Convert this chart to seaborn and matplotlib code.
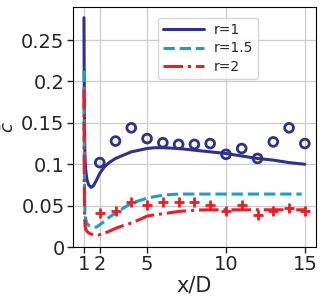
import numpy as np
import pandas as pd
import seaborn as sns
import matplotlib.pyplot as plt

# --- Data ---
X_R1 = [1.0, 1.01, 1.03, 1.06, 1.1, 1.18, 1.3, 1.45, 1.6, 1.8, 2.0, 2.3, 2.6, 3.0, 3.5, 4.0, 4.5, 5.0, 5.5, 6.0, 7.0, 8.0, 9.0, 10.0, 11.0, 12.0, 13.0, 14.0, 15.0]
C_R1 = [0.277, 0.22, 0.15, 0.112, 0.095, 0.082, 0.075, 0.072, 0.074, 0.081, 0.089, 0.097, 0.102, 0.107, 0.111, 0.115, 0.117, 0.119, 0.120, 0.120, 0.119, 0.117, 0.115, 0.113, 0.110, 0.107, 0.105, 0.102, 0.100]

X_R15 = [1.0, 1.01, 1.03, 1.06, 1.1, 1.17, 1.3, 1.5, 1.8, 2.0, 2.3, 2.6, 3.0, 3.5, 4.0, 4.5, 5.0, 5.5, 6.2, 7.0, 8.0, 10.0, 12.0, 14.0, 14.8]
C_R15 = [0.213, 0.15, 0.08, 0.045, 0.035, 0.029, 0.026, 0.024, 0.024, 0.027, 0.031, 0.036, 0.041, 0.047, 0.053, 0.056, 0.059, 0.061, 0.063, 0.064, 0.064, 0.064, 0.064, 0.064, 0.064]

X_R2 = [1.0, 1.01, 1.03, 1.06, 1.1, 1.2, 1.4, 1.6, 1.9, 2.2, 2.6, 3.0, 3.5, 4.0, 4.5, 5.0, 5.5, 6.3, 7.0, 8.2, 9.0, 10.0, 12.0, 14.0, 15.0]
C_R2 = [0.19, 0.12, 0.05, 0.028, 0.022, 0.0185, 0.016, 0.015, 0.0145, 0.016, 0.019, 0.0226, 0.026, 0.029, 0.033, 0.0374, 0.039, 0.041, 0.043, 0.0447, 0.045, 0.045, 0.045, 0.045, 0.045]

X_PTS = [2, 3, 4, 5, 6, 7, 8, 9, 10, 11, 12, 13, 14, 15]
C_CIRCLES = [0.102, 0.128, 0.144, 0.131, 0.126, 0.124, 0.124, 0.125, 0.112, 0.119, 0.107, 0.127, 0.144, 0.125]
C_PLUS = [0.041, 0.044, 0.054, 0.051, 0.054, 0.054, 0.055, 0.051, 0.044, 0.051, 0.039, 0.044, 0.047, 0.043]

X_TICKS = [1, 2, 5, 10, 15]
Y_TICKS = [0, 0.05, 0.1, 0.15, 0.2, 0.25]
Y_TICK_LABELS = ['0', '0.05', '0.1', '0.15', '0.2', '0.25']

# --- Styling ---
BLUE = '#2e3192'
CYAN = '#1aa0c8'
RED = '#ee1c25'

sns.set_style('ticks')
plt.rcParams['font.family'] = ['DejaVu Sans']

fig, ax = plt.subplots(figsize=(3.27, 2.98), dpi=100)
fig.subplots_adjust(left=0.223, right=0.966, bottom=0.171, top=0.977)

sns.lineplot(x=X_R1, y=C_R1, ax=ax, color=BLUE, lw=2.2, sort=False, label='r=1')
sns.lineplot(x=X_R15, y=C_R15, ax=ax, color=CYAN, lw=2.2, sort=False, label='r=1.5', linestyle='--')
sns.lineplot(x=X_R2, y=C_R2, ax=ax, color=RED, lw=2.2, sort=False, label='r=2', linestyle='-.')

sns.scatterplot(x=X_PTS, y=C_CIRCLES, ax=ax, marker='o', s=40,
                facecolors='none', edgecolor=BLUE, linewidth=2, zorder=3)
sns.scatterplot(x=X_PTS, y=C_PLUS, ax=ax, marker='+', s=60,
                color=RED, linewidth=2, zorder=3)

ax.set_xticks(X_TICKS)
ax.set_yticks(Y_TICKS)
ax.set_yticklabels(Y_TICK_LABELS)
ax.set_ylim(bottom=0)
ax.tick_params(labelsize=14, length=4, width=1, pad=2)
ax.grid(True, color='#cccccc', linewidth=0.9)
ax.set_axisbelow(True)
for sp in ax.spines.values():
    sp.set_visible(True)
    sp.set_color('black')

ax.set_xlabel('x/D', fontsize=15, labelpad=1)
ax.set_ylabel(r'$\bar{c}$', fontsize=13)
ax.yaxis.set_label_coords(-0.228, 0.5)

leg = ax.legend(loc='upper left', bbox_to_anchor=(0.35, 0.955), fontsize=10,
                handlelength=3.0, handletextpad=0.7, frameon=True,
                borderpad=0.35, labelspacing=0.35, borderaxespad=0.0)

fig.savefig('out.png', dpi=100)
